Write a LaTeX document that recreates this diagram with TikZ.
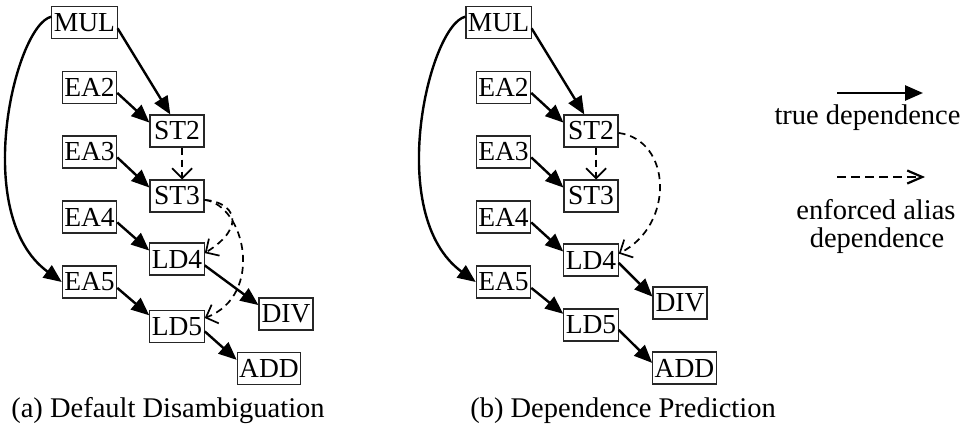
\documentclass[tikz,border=0pt]{standalone}
\usepackage{fontspec}
\setmainfont{Liberation Serif}
\usepackage{xcolor}
\usepackage{tikz}
\usetikzlibrary{arrows.meta}

\begin{document}
\begin{tikzpicture}[x=1pt, y=1pt,
  op/.style={draw=black!85, line width=1.1pt, inner xsep=2pt, inner ysep=0pt, minimum height=32pt, minimum width=54pt, font=\fontsize{27.5}{28}\selectfont},
  dep/.style={line width=2.4pt, -{Triangle[length=18pt,width=15pt]}},
  alias/.style={line width=1.7pt, dash pattern=on 7pt off 5pt, -{Straight Barb[length=10pt,width=20pt]}},
  lbl/.style={font=\fontsize{28.5}{28}\selectfont, inner sep=0pt}]
\useasboundingbox (0,0) rectangle (964,-429);

% Default disambiguation
\node[op] (MULa) at (84.5,-22.5) {MUL};
\node[op] (EA2a) at (89.5,-87.5) {EA2};
\node[op] (ST2a) at (177,-131) {ST2};
\node[op] (EA3a) at (89.5,-152) {EA3};
\node[op] (ST3a) at (177,-196) {ST3};
\node[op] (EA4a) at (89.5,-217) {EA4};
\node[op] (LD4a) at (177,-259) {LD4};
\node[op] (EA5a) at (89.5,-282) {EA5};
\node[op] (LD5a) at (177,-326.5) {LD5};
\node[op] (DIVa) at (286,-314) {DIV};
\node[op] (ADDa) at (269,-368.5) {ADD};

\draw[dep] (MULa.-10) -- (ST2a.112);
\draw[dep] (MULa.170) .. controls (15,-25) and (-30,-215) .. (EA5a.west);
\draw[dep] (EA2a.-11) -- (ST2a.163);
\draw[dep] (EA3a.-11) -- (ST3a.163);
\draw[dep] (EA4a.-11) -- (LD4a.163);
\draw[dep] (EA5a.-12) -- (LD5a.158);
\draw[dep] (LD4a.-13) -- (DIVa.162);
\draw[dep] (LD5a.-10) -- (ADDa.165);
\draw[alias] (ST2a.-73) -- (ST3a.73);
\draw[alias] (ST3a.-8) .. controls (234,-202) and (248,-226) .. (LD4a.12);
\draw[alias] (ST3a.-8) .. controls (245,-205) and (265,-295) .. (LD5a.17);

\node[lbl, anchor=base] (capa) at (168,-417) {(a) Default Disambiguation};

% Dependence prediction
\node[op] (MULb) at (498.5,-22.5) {MUL};
\node[op] (EA2b) at (503.5,-87.5) {EA2};
\node[op] (ST2b) at (591,-131) {ST2};
\node[op] (EA3b) at (503.5,-152) {EA3};
\node[op] (ST3b) at (591,-196) {ST3};
\node[op] (EA4b) at (503.5,-217) {EA4};
\node[op] (LD4b) at (591,-260) {LD4};
\node[op] (EA5b) at (503.5,-282) {EA5};
\node[op] (LD5b) at (591,-325) {LD5};
\node[op] (DIVb) at (680,-303) {DIV};
\node[op] (ADDb) at (684.5,-368) {ADD};

\draw[dep] (MULb.-10) -- (ST2b.112);
\draw[dep] (MULb.170) .. controls (429,-25) and (384,-215) .. (EA5b.west);
\draw[dep] (EA2b.-11) -- (ST2b.163);
\draw[dep] (EA3b.-11) -- (ST3b.163);
\draw[dep] (EA4b.-11) -- (LD4b.163);
\draw[dep] (EA5b.-12) -- (LD5b.158);
\draw[dep] (LD4b.-6) -- (DIVb.167);
\draw[dep] (LD5b.-10) -- (ADDb.171);
\draw[alias] (ST2b.-73) -- (ST3b.73);
\draw[alias] (ST2b.-4) .. controls (672,-140) and (675,-225) .. (LD4b.13);

\node[lbl, anchor=base] (capb) at (623,-417) {(b) Dependence Prediction};

% Legend
\coordinate (T1) at (837,-93);
\coordinate (T2) at (923,-93);
\draw[dep, line width=2.6pt] (T1) -- (T2);
\node[lbl, anchor=base] (truelbl) at (867.5,-124) {true dependence};
\coordinate (A1) at (837,-177);
\coordinate (A2) at (925,-177);
\draw[alias, line width=2.2pt, dash pattern=on 9pt off 5pt, -{Straight Barb[length=15pt,width=13pt]}] (A1) -- (A2);
\node[lbl, anchor=base] (aliaslbl) at (876,-219) {enforced alias};
\node[lbl, anchor=base] (deplbl) at (877,-247) {dependence};
\end{tikzpicture}
\end{document}
